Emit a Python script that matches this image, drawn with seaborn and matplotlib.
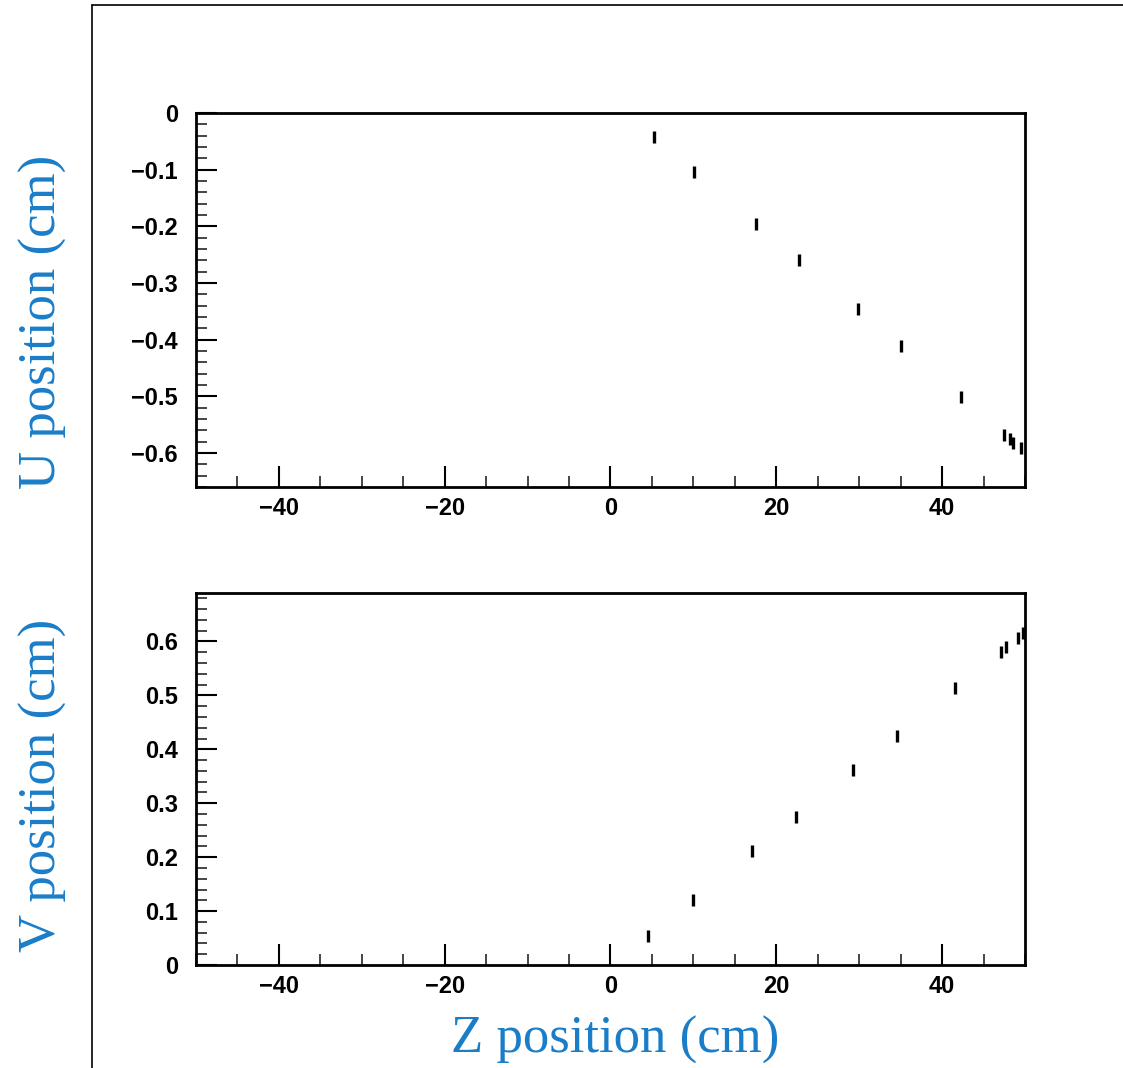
import matplotlib
matplotlib.use("Agg")
import matplotlib.pyplot as plt
import seaborn as sns
import pandas as pd
from matplotlib.lines import Line2D
from matplotlib.ticker import MultipleLocator

# ---- data ----
u_z = [5.2, 10.1, 17.5, 22.7, 29.8, 35.1, 42.3, 47.5, 48.2, 48.6, 49.5]
u_pos = [-0.042, -0.104, -0.196, -0.260, -0.346, -0.412, -0.502, -0.568, -0.576, -0.582, -0.592]
v_z = [4.5, 10.0, 17.1, 22.4, 29.3, 34.6, 41.6, 47.1, 47.7, 49.2, 49.8]
v_pos = [0.054, 0.121, 0.212, 0.275, 0.362, 0.424, 0.513, 0.580, 0.589, 0.606, 0.615]
x_ticks = [-40, -20, 0, 20, 40]
u_ticks = [0, -0.1, -0.2, -0.3, -0.4, -0.5, -0.6]
v_ticks = [0, 0.1, 0.2, 0.3, 0.4, 0.5, 0.6]

sns.set_style("ticks")
plt.rcParams['font.family'] = ['Liberation Sans', 'DejaVu Sans']

fig = plt.figure(figsize=(11.23, 10.68), dpi=100)
ax1 = fig.add_axes([0.1745, 0.544, 0.7382, 0.3502])
ax2 = fig.add_axes([0.1745, 0.0964, 0.7382, 0.3484])

df_u = pd.DataFrame({"z": u_z, "pos": u_pos})
df_v = pd.DataFrame({"z": v_z, "pos": v_pos})

for ax, df in ((ax1, df_u), (ax2, df_v)):
    sns.scatterplot(data=df, x="z", y="pos", ax=ax, marker="|", s=75,
                    color="black", linewidth=2.4, legend=False)

ax1.set_xlim(-50, 50)
ax1.set_ylim(-0.66, 0)
ax2.set_xlim(-50, 50)
ax2.set_ylim(0, 0.69)

ax1.set_yticks(u_ticks)
ax1.set_yticklabels(["0", "\u22120.1", "\u22120.2", "\u22120.3", "\u22120.4", "\u22120.5", "\u22120.6"])
ax2.set_yticks(v_ticks)
ax2.set_yticklabels(["0", "0.1", "0.2", "0.3", "0.4", "0.5", "0.6"])

for ax in (ax1, ax2):
    ax.set_xticks(x_ticks)
    ax.set_xticklabels(["\u221240", "\u221220", "0", "20", "40"])
    ax.xaxis.set_minor_locator(MultipleLocator(5))
    ax.yaxis.set_minor_locator(MultipleLocator(0.02))
    ax.tick_params(axis="both", which="major", direction="in", length=15, width=1.5,
                   labelsize=17, colors="black")
    ax.tick_params(axis="y", which="major", pad=13)
    ax.tick_params(axis="x", which="major", pad=7)
    ax.tick_params(axis="both", which="minor", direction="in", length=8, width=1.2)
    ax.tick_params(top=False, right=False, which="both")
    for sp in ax.spines.values():
        sp.set_visible(True)
        sp.set_linewidth(2.0)
        sp.set_color("black")
    ax.set_xlabel("")
    ax.set_ylabel("")
    for lab in ax.get_xticklabels() + ax.get_yticklabels():
        lab.set_fontweight("bold")

blue = "#1a7dc8"
serif = ['Liberation Serif', 'DejaVu Serif']
fig.text(43 / 1123, 1 - 322 / 1068, "U position (cm)", rotation=90, ha="center", va="center",
         fontsize=38, color=blue, family=serif)
fig.text(43 / 1123, 1 - 785 / 1068, "V position (cm)", rotation=90, ha="center", va="center",
         fontsize=38, color=blue, family=serif)
fig.text(615 / 1123, 1 - 1040 / 1068, "Z position (cm)", ha="center", va="center",
         fontsize=38, color=blue, family=serif)

# outer frame lines
fig.add_artist(Line2D([92 / 1123, 92 / 1123], [0, 1 - 5 / 1068], transform=fig.transFigure,
                      color="black", linewidth=1.2))
fig.add_artist(Line2D([92 / 1123, 1], [1 - 5 / 1068, 1 - 5 / 1068], transform=fig.transFigure,
                      color="black", linewidth=1.2))

fig.savefig("out.png", dpi=100)
